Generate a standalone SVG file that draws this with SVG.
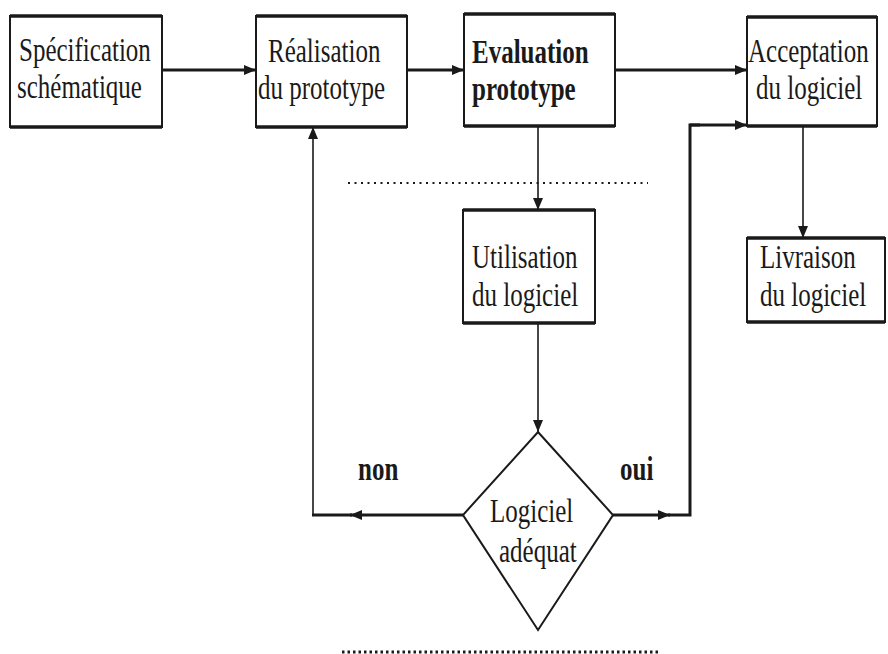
<svg xmlns="http://www.w3.org/2000/svg" width="888" height="654" viewBox="0 0 888 654">
<style>
.t{font-family:"Liberation Serif","Times New Roman",serif;font-size:25px;fill:#1a1a1a}
.b{font-weight:bold}
.box{fill:#fff;stroke:#1a1a1a;stroke-width:2}
.edge{stroke:#1a1a1a;stroke-width:3;fill:none}
.thin{stroke:#1a1a1a;stroke-width:1.6;fill:none}
.thick{stroke:#1a1a1a;stroke-width:3.5}
</style>
<defs>
<marker id="ah" viewBox="0 0 12 10" refX="12" refY="5" markerWidth="12" markerHeight="10" markerUnits="userSpaceOnUse" orient="auto">
<path d="M0,0 L12,5 L0,10 z" fill="#1a1a1a"/>
</marker>
</defs>
<rect width="888" height="654" fill="#fff"/>
<g id="connectors">
<line class="edge" x1="162" y1="70" x2="256" y2="70" marker-end="url(#ah)"/>
<line class="edge" x1="407" y1="70" x2="464" y2="70" marker-end="url(#ah)"/>
<line class="edge" x1="615" y1="70" x2="747" y2="70" marker-end="url(#ah)"/>
<line class="thin" x1="538" y1="126" x2="538" y2="210" marker-end="url(#ah)"/>
<line class="thin" x1="538" y1="323" x2="538" y2="432" marker-end="url(#ah)"/>
<line class="thin" x1="803" y1="126" x2="803" y2="238" marker-end="url(#ah)"/>
<line class="edge" x1="463" y1="515" x2="350" y2="515" marker-end="url(#ah)"/>
<line class="edge" x1="352" y1="515" x2="312" y2="515"/>
<line class="thin" x1="313" y1="516" x2="313" y2="127" stroke-width="2" marker-end="url(#ah)"/>
<line class="edge" x1="613" y1="515" x2="670" y2="515" marker-end="url(#ah)"/>
<polyline class="edge" points="668,515 690,515 690,125 700,125"/>
<line class="edge" x1="690" y1="125" x2="747" y2="125" marker-end="url(#ah)"/>
<line stroke="#1a1a1a" stroke-width="2" stroke-dasharray="2 4.5" x1="348" y1="183" x2="648" y2="183"/>
<line stroke="#1a1a1a" stroke-width="3" stroke-dasharray="2.5 3" x1="342" y1="652" x2="658" y2="652"/>
</g>
<g id="spec">
<rect class="box" x="10" y="16" width="152" height="111"/>
<line class="thick" x1="10" y1="16" x2="162" y2="16"/><line class="thick" x1="10" y1="127" x2="162" y2="127"/>
<text class="t" transform="translate(19,61) scale(1,1.35)">Spécification</text>
<text class="t" transform="translate(17,98) scale(1,1.35)">schématique</text>
</g>
<g id="realisation">
<rect class="box" x="256" y="16" width="151" height="111"/>
<line class="thick" x1="256" y1="16" x2="407" y2="16"/><line class="thick" x1="256" y1="127" x2="407" y2="127"/>
<text class="t" transform="translate(268,62) scale(1,1.35)">Réalisation</text>
<text class="t" transform="translate(258,99) scale(1,1.35)">du prototype</text>
</g>
<g id="evaluation">
<rect class="box" x="464" y="14" width="151" height="112"/>
<line class="thick" x1="464" y1="14" x2="615" y2="14"/><line class="thick" x1="464" y1="126" x2="615" y2="126"/>
<text class="t b" transform="translate(472,63) scale(1,1.35)">Evaluation</text>
<text class="t b" transform="translate(472,100) scale(1,1.35)">prototype</text>
</g>
<g id="acceptation">
<rect class="box" x="747" y="17" width="130" height="109"/>
<line class="thick" x1="747" y1="17" x2="877" y2="17"/><line class="thick" x1="747" y1="126" x2="877" y2="126"/>
<text class="t" transform="translate(748,62) scale(1,1.35)">Acceptation</text>
<text class="t" transform="translate(756,99) scale(1,1.35)">du logiciel</text>
</g>
<g id="utilisation">
<rect class="box" x="463" y="210" width="132" height="113"/>
<line class="thick" x1="463" y1="210" x2="595" y2="210"/><line class="thick" x1="463" y1="323" x2="595" y2="323"/>
<text class="t" transform="translate(472,268) scale(1,1.35)">Utilisation</text>
<text class="t" transform="translate(472,306) scale(1,1.35)">du logiciel</text>
</g>
<g id="livraison">
<rect class="box" x="747" y="238" width="138" height="84" stroke-width="3"/>
<line class="thick" x1="747" y1="238" x2="885" y2="238"/><line class="thick" x1="747" y1="322" x2="885" y2="322"/>
<text class="t" transform="translate(760,268) scale(1,1.35)">Livraison</text>
<text class="t" transform="translate(760,306) scale(1,1.35)">du logiciel</text>
</g>
<g id="decision">
<polygon class="box" points="538,432 613,515 538,630 463,515"/>
<text class="t" transform="translate(490,522) scale(1,1.35)">Logiciel</text>
<text class="t" transform="translate(499,562) scale(1,1.35)">adéquat</text>
</g>
<g id="labels">
<text class="t b" transform="translate(358,480) scale(1,1.35)">non</text>
<text class="t b" transform="translate(620,480) scale(1,1.35)">oui</text>
</g>
</svg>
